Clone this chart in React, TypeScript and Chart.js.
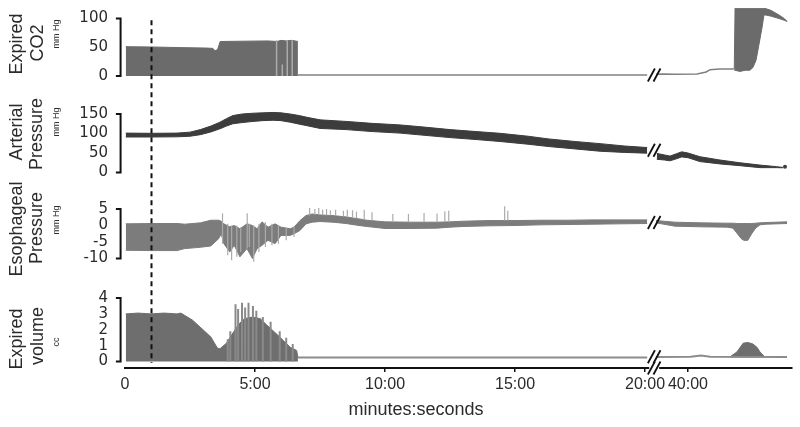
import React, { useEffect, useRef } from "react";
import { Chart, registerables } from "chart.js";

Chart.register(...registerables);

// ---------------- time axis (minutes), broken between 20:00 and 40:00 ----------------
const xTickMinutes = [0, 5, 10, 15, 20, 40];
const xTickLabels = ["0", "5:00", "10:00", "15:00", "20:00", "40:00"];
const breakAxisPos = 20.35;
const secondSegmentAxisStart = 21.65;
const axisEnd = 25.65;
const dashedMinute = 1;
const bracketOuter = -0.35;
const bracketInner = -0.17;
const toAxis = (t: number) => (t < 30 ? t : secondSegmentAxisStart + (t - 40));

// ---------------- tick labels per panel ----------------
const co2Ticks = [0, 50, 100];
const artTicks = [0, 50, 100, 150];
const esoTicks = [-10, -5, 0, 5];
const volTicks = [0, 1, 2, 3, 4];

// ---------------- Expired CO2 (mm Hg) ----------------
const co2Time = [0.03, 1.0, 2.0, 3.2, 3.38, 3.46, 3.56, 3.66, 4.5, 5.5, 5.85, 6.0, 6.2, 6.4, 6.55, 6.65];
const co2Max = [51, 50.5, 49.5, 48.5, 48, 44, 46, 60, 60.5, 61, 60, 62, 61, 62, 61, 60];
const co2SpikeTime = [5.83, 6.05, 6.24, 6.43];
const co2SpikeHigh = [62, 20, 62, 62];
const co2FlatTime = [6.65, 20.08];
const co2FlatVal = [1.7, 1.7];
const co2LateLineTime = [38.77, 39.04, 39.5, 40.35, 40.7, 40.85, 41.2, 41.69, 41.78];
const co2LateLineVal = [3.0, 3.5, 3.2, 3.6, 7, 11, 12, 12, 12.5];
const co2LateTime = [41.78, 41.81, 42.0, 42.2, 42.38, 42.5, 42.62, 42.73, 42.85, 42.92, 43.0, 43.2, 43.5, 43.7, 43.81];
const co2LateMax = [13, 118, 118, 118, 118, 118, 118, 118, 118, 118, 117, 114, 106, 100, 95];
const co2LateMin = [10, 10, 8, 10, 10, 15, 28, 55, 85, 106, 106, 104, 100, 97, 95];

// ---------------- Arterial pressure (mm Hg) ----------------
const artTime = [0.03, 1, 2, 2.5, 2.9, 3.3, 3.65, 3.9, 4.15, 4.5, 4.92, 5.3, 5.69, 6.0, 6.35, 6.7, 7.0, 7.5, 8.5, 9.5, 10.58, 11.5, 12.5, 13.5, 14.42, 15.5, 16.3, 17.3, 18.27, 19.2, 20.08];
const artMax = [101, 100.5, 101, 103.5, 110, 119, 129, 138, 146, 150, 152, 153, 154, 153, 150, 146, 141.5, 135, 131, 126, 122, 116.5, 110, 105, 100.5, 93, 86, 79.5, 74, 68, 64];
const artMin = [91, 91, 91.5, 93, 97, 104, 112, 119, 125, 128, 131, 133, 134, 133, 129, 124, 120, 113, 110, 105, 101, 95.5, 89.5, 84.5, 79.5, 72.5, 66.5, 60.5, 54.5, 51.5, 49.5];
const artLateTime = [38.8, 39.1, 39.31, 39.55, 39.76, 40.0, 40.46, 41.23, 42.0, 42.77, 43.41, 43.65];
const artLateMax = [49, 45, 42, 48, 53, 50, 40.5, 32, 25, 19, 15, 13];
const artLateMin = [34, 32, 30, 35, 40, 38, 28, 22, 17.5, 12.5, 12.5, 12];
const artEndTime = [43.73];
const artEndVal = [15];

// ---------------- Esophageal pressure (mm Hg) ----------------
const esoTime = [0.03, 1.0, 2.0, 2.3, 2.9, 3.3, 3.6, 3.7, 3.8, 4.03, 4.2, 4.42, 4.69, 4.9, 5.08, 5.27, 5.5, 5.77, 6.0, 6.35, 6.5, 6.73, 6.96, 7.2, 7.5, 8.0, 8.5, 9.0, 9.3, 10, 11, 12, 12.5, 13, 14, 15, 16, 17, 18, 19, 20.08];
const esoMax = [0.5, 0.6, 0.6, 0.4, 0.8, 1.6, 1.6, 1.3, 0.5, -0.4, 0.0, -1.0, 0.5, 0.0, -1.0, 1.1, -0.5, 0.5, -0.5, -1.0, -0.5, 1.5, 3.0, 3.5, 3.2, 3.0, 2.6, 2.0, 1.6, 1.1, 1.0, 1.0, 1.1, 1.3, 1.5, 1.5, 1.6, 1.6, 1.7, 1.7, 1.7];
const esoMin = [-7.5, -7.6, -7.6, -7.0, -6.6, -6.2, -4.0, -2.5, -5.5, -8.0, -6.0, -9.5, -7.0, -10.0, -7.0, -6.0, -4.5, -5.5, -3.0, -3.0, -2.5, -1.5, 0.5, 1.0, 1.2, 1.0, 0.6, 0.0, -0.3, -0.9, -0.9, -0.8, -0.5, -0.3, -0.1, 0.0, 0.2, 0.3, 0.4, 0.5, 0.6];
const esoSpikeTime = [3.75, 3.95, 4.1, 4.3, 4.45, 4.7, 4.78, 4.95, 5.15, 5.4, 5.65, 5.9, 6.2, 6.5, 7.1, 7.3, 7.45, 7.6, 7.75, 7.9, 8.1, 8.4, 8.55, 8.75, 8.9, 9.2, 9.5, 10.3, 10.9, 11.5, 12.0, 12.3, 12.45, 14.6, 14.72];
const esoSpikeLow = [-5.5, -9.0, -10.5, -9.5, -8.0, -7.0, -6.5, -11.0, -8.0, -6.5, -6.0, -5.5, -4.5, -3.5, 3.0, 3.2, 3.2, 3.2, 3.1, 3.0, 3.0, 2.7, 2.6, 2.4, 2.2, 1.8, 1.5, 1.0, 1.0, 1.0, 1.0, 1.0, 1.0, 1.5, 1.5];
const esoSpikeHigh = [3.7, 0.5, 0.0, 0.0, -0.5, 3.7, 0.5, 0.0, 0.5, 1.0, 0.5, 0.0, -0.5, -0.5, 5.3, 5.0, 5.3, 4.8, 5.0, 4.6, 4.8, 4.5, 4.8, 4.6, 4.2, 4.8, 4.0, 3.5, 3.5, 3.8, 3.6, 4.3, 4.5, 5.8, 4.5];
const esoLateTime = [38.77, 39.5, 40.5, 41.5, 41.73, 41.9, 42.05, 42.15, 42.3, 42.45, 42.6, 42.77, 43.0, 43.81];
const esoLateMax = [1.5, 1.0, 0.8, 0.7, 0.7, 0.6, 0.6, 0.6, 0.6, 0.6, 0.7, 0.8, 0.9, 1.1];
const esoLateMin = [0.8, -0.2, -0.4, -0.5, -0.8, -2.5, -4.0, -4.5, -4.5, -2.5, -0.8, 0.2, 0.4, 0.6];

// ---------------- Expired volume (cc) ----------------
const volTime = [0.03, 0.5, 1.0, 1.5, 2.0, 2.15, 2.3, 2.6, 3.0, 3.3, 3.55, 3.65, 3.9, 4.15, 4.4, 4.6, 4.9, 5.2, 5.45, 5.85, 6.1, 6.35, 6.6, 6.65];
const volMax = [3.0, 3.05, 3.0, 3.05, 3.0, 3.05, 2.9, 2.6, 2.0, 1.55, 0.85, 0.8, 1.15, 1.8, 2.4, 2.7, 2.8, 2.7, 2.3, 1.7, 1.3, 0.9, 0.7, 0.25];
const volSpikeTime = [3.95, 4.05, 4.25, 4.35, 4.5, 4.62, 4.75, 4.92, 5.05, 5.3, 5.6, 5.95, 6.2, 6.45];
const volSpikeHigh = [1.4, 1.9, 3.6, 3.3, 3.7, 3.4, 3.7, 3.5, 3.2, 2.8, 2.5, 1.9, 1.5, 1.1];
const volFlatTime = [6.65, 20.08];
const volFlatVal = [0.25, 0.25];
const volLateLineTime = [38.77, 40.1, 40.5, 40.85, 43.81];
const volLateLineVal = [0.28, 0.3, 0.38, 0.3, 0.28];
const volBumpTime = [41.62, 41.88, 42.12, 42.3, 42.5, 42.65, 42.77, 42.96];
const volBumpMax = [0.3, 0.6, 1.15, 1.2, 1.1, 0.9, 0.6, 0.28];

// ---------------- layout / styling ----------------
const AREA_TOP = 8;
const AREA_BOTTOM = 368;
const C_CO2 = "#6b6b6b";
const C_ART = "#3c3c3c";
const C_ESO = "#7c7c7c";
const C_VOL = "#6e6e6e";
const C_LIGHT = "#ababab";
const TEXT = "#2b2b2b";
const SANS = "'Liberation Sans', Arial, sans-serif";
const YFONT = "'DejaVu Sans', sans-serif";

// panel bands (pixel rows) and pixel rows of lowest/highest tick
const panelLayout: Record<string, { top: number; bottom: number; lo: number; hi: number; order: number }> = {
  yCO2: { top: 8, bottom: 95, lo: 76, hi: 18.5, order: 4 },
  yArt: { top: 95, bottom: 190, lo: 172.5, hi: 114, order: 3 },
  yEso: { top: 190, bottom: 278, lo: 258.5, hi: 209, order: 2 },
  yVol: { top: 278, bottom: 368, lo: 361.5, hi: 298, order: 1 },
};

const pts = (ts: number[], vs: number[]) => ts.map((t, i) => ({ x: toAxis(t), y: vs[i] }));
const spikePts = (ts: number[], lo: number[] | null, hi: number[]) =>
  ts.flatMap((t, i) => [
    { x: toAxis(t), y: lo ? lo[i] : 0 },
    { x: toAxis(t), y: hi[i] },
    { x: toAxis(t), y: null as any },
  ]);

const lineDs = (yAxisID: string, data: any[], color: string, width: number, extra: any = {}) => ({
  data,
  yAxisID,
  xAxisID: "x",
  borderColor: color,
  backgroundColor: color,
  borderWidth: width,
  pointRadius: 0,
  fill: false,
  tension: 0,
  spanGaps: false,
  order: 2,
  ...extra,
});

const bandDs = (yAxisID: string, ts: number[], hi: number[], lo: number[], color: string) => [
  lineDs(yAxisID, pts(ts, hi), color, 1, { fill: "+1" }),
  lineDs(yAxisID, pts(ts, lo), color, 1),
];

// axis bracket "]" drawn left of the plot, from lowest to highest tick
const bracketDs = (yAxisID: string, ticks: number[]) =>
  lineDs(
    yAxisID,
    [
      { x: bracketOuter, y: ticks[ticks.length - 1] },
      { x: bracketInner, y: ticks[ticks.length - 1] },
      { x: bracketInner, y: ticks[0] },
      { x: bracketOuter, y: ticks[0] },
    ],
    "#111111",
    2,
    { clip: false, order: -1, borderJoinStyle: "miter", borderCapStyle: "butt" }
  );

export default function App() {
  const ref = useRef<HTMLCanvasElement>(null);

  useEffect(() => {
    const canvas = ref.current!;

    const datasets: any[] = [
      bracketDs("yCO2", co2Ticks),
      bracketDs("yArt", artTicks),
      bracketDs("yEso", esoTicks),
      bracketDs("yVol", volTicks),
      lineDs("yCO2", spikePts(co2SpikeTime, null, co2SpikeHigh), C_LIGHT, 1.5, { order: 0 }),
      lineDs("yEso", spikePts(esoSpikeTime, esoSpikeLow, esoSpikeHigh), C_LIGHT, 1.2, { order: 0 }),
      lineDs("yVol", spikePts(volSpikeTime, null, volSpikeHigh), "#8a8a8a", 2, { order: 0 }),
      lineDs("yArt", pts(artEndTime, artEndVal), C_ART, 0, { pointRadius: 2, pointBackgroundColor: C_ART, order: 0 }),
      lineDs("yCO2", pts(co2Time, co2Max), C_CO2, 1, { fill: { value: 0 } }),
      lineDs("yCO2", pts(co2FlatTime, co2FlatVal), "#808080", 1.5),
      lineDs("yCO2", pts(co2LateLineTime, co2LateLineVal), "#808080", 1.5),
      ...bandDs("yCO2", co2LateTime, co2LateMax, co2LateMin, C_CO2),
      ...bandDs("yArt", artTime, artMax, artMin, C_ART),
      ...bandDs("yArt", artLateTime, artLateMax, artLateMin, C_ART),
      ...bandDs("yEso", esoTime, esoMax, esoMin, C_ESO),
      ...bandDs("yEso", esoLateTime, esoLateMax, esoLateMin, C_ESO),
      lineDs("yVol", pts(volTime, volMax), C_VOL, 1, { fill: { value: 0 } }),
      lineDs("yVol", pts(volFlatTime, volFlatVal), "#8c8c8c", 2),
      lineDs("yVol", pts(volLateLineTime, volLateLineVal), "#8c8c8c", 2),
      lineDs("yVol", pts(volBumpTime, volBumpMax), C_VOL, 1, { fill: { value: 0.25 } }),
    ];

    const yScale = (id: string, ticks: number[]) => {
      const p = panelLayout[id];
      const vLo = ticks[0];
      const vHi = ticks[ticks.length - 1];
      const k = (p.lo - p.hi) / (vHi - vLo);
      const max = vLo + (p.lo - p.top) / k;
      const min = vLo - (p.bottom - p.lo) / k;
      return {
        type: "linear",
        position: "left",
        stack: "panels",
        stackWeight: p.bottom - p.top,
        weight: p.order,
        min,
        max,
        grid: { display: false, drawTicks: false },
        border: { display: false },
        afterBuildTicks: (s: any) => {
          s.ticks = ticks.map((v) => ({ value: v }));
        },
        afterFit: (s: any) => {
          s.width = 125;
          s.paddingTop = 0;
          s.paddingBottom = 0;
        },
        ticks: {
          autoSkip: false,
          padding: 17,
          color: TEXT,
          font: { family: YFONT, size: 15 },
          callback: (v: any) => String(v),
        },
      };
    };

    const titles = [
      { text: "Expired", x: 17, y: 44, size: 18 },
      { text: "CO2", x: 38, y: 43, size: 18 },
      { text: "mm Hg", x: 57, y: 34, size: 9 },
      { text: "Arterial", x: 17, y: 132, size: 18 },
      { text: "Pressure", x: 37, y: 134, size: 18 },
      { text: "mm Hg", x: 57, y: 122, size: 9 },
      { text: "Esophageal", x: 17, y: 229, size: 18 },
      { text: "Pressure", x: 37, y: 228, size: 18 },
      { text: "mm Hg", x: 57, y: 220, size: 9 },
      { text: "Expired", x: 17, y: 339, size: 18 },
      { text: "volume", x: 38, y: 336, size: 18 },
      { text: "cc", x: 57, y: 342, size: 9 },
    ];

    const breaks = [
      { id: "yCO2", v: 1.7 },
      { id: "yArt", v: 57 },
      { id: "yEso", v: 0.9 },
      { id: "yVol", v: 0.3 },
    ];

    const decor = {
      id: "decor",
      afterDraw(chart: any) {
        const { ctx, scales } = chart;
        const xs = scales.x;
        const plotBottom = xs.top;
        ctx.save();
        ctx.fillStyle = TEXT;
        ctx.textAlign = "center";
        ctx.textBaseline = "middle";
        for (const t of titles) {
          ctx.save();
          ctx.translate(t.x, t.y);
          ctx.rotate(-Math.PI / 2);
          ctx.font = `${t.size}px ${SANS}`;
          ctx.fillText(t.text, 0, 0);
          ctx.restore();
        }
        ctx.font = `18px ${SANS}`;
        ctx.fillText("minutes:seconds", 416, 410);
        const dx = Math.round(xs.getPixelForValue(dashedMinute)) + 0.5;
        ctx.strokeStyle = "#111";
        ctx.lineWidth = 2;
        ctx.setLineDash([5, 4]);
        ctx.beginPath();
        ctx.moveTo(dx, scales.yCO2.getPixelForValue(97));
        ctx.lineTo(dx, plotBottom - 5);
        ctx.stroke();
        ctx.setLineDash([]);
        const bxp = xs.getPixelForValue(breakAxisPos);
        const slash = (cx: number, cy: number, clear: boolean) => {
          if (clear) {
            ctx.fillStyle = "#fff";
            ctx.fillRect(cx - 5, cy - 3, 10, 6);
          }
          ctx.strokeStyle = "#111";
          ctx.lineWidth = 1.8;
          for (const off of [-2.8, 2.8]) {
            ctx.beginPath();
            ctx.moveTo(cx + off - 3.5, cy + 6.5);
            ctx.lineTo(cx + off + 3.5, cy - 6.5);
            ctx.stroke();
          }
        };
        for (const b of breaks) slash(bxp, scales[b.id].getPixelForValue(b.v), false);
        slash(bxp, plotBottom, true);
        ctx.restore();
      },
    };

    const chart = new Chart(canvas, {
      type: "line",
      data: { datasets },
      options: {
        animation: false,
        responsive: false,
        maintainAspectRatio: false,
        layout: { padding: { top: AREA_TOP, right: 8, left: 0, bottom: 0 } },
        plugins: { legend: { display: false }, tooltip: { enabled: false } },
        events: [],
        scales: {
          x: {
            type: "linear",
            position: "bottom",
            min: 0,
            max: axisEnd,
            afterBuildTicks: (s: any) => {
              s.ticks = xTickMinutes.map((m) => ({ value: toAxis(m) }));
            },
            afterFit: (s: any) => {
              s.height = 427 - AREA_BOTTOM;
              s.paddingLeft = 0;
              s.paddingRight = 0;
            },
            grid: {
              display: true,
              drawOnChartArea: false,
              drawTicks: true,
              tickLength: 4,
              lineWidth: 1.5,
              color: (c: any) => (c.index === 0 ? "rgba(0,0,0,0)" : "#111"),
            },
            border: { display: true, color: "#111", width: 2 },
            ticks: {
              autoSkip: false,
              maxRotation: 0,
              padding: 3,
              color: TEXT,
              font: { family: SANS, size: 16 },
              callback: (_v: any, i: number) => xTickLabels[i],
            },
          },
          yCO2: yScale("yCO2", co2Ticks),
          yArt: yScale("yArt", artTicks),
          yEso: yScale("yEso", esoTicks),
          yVol: yScale("yVol", volTicks),
        } as any,
      },
      plugins: [decor],
    } as any);

    return () => chart.destroy();
  }, []);

  return (
    <div style={{ position: "fixed", left: 0, top: 0, width: 800, height: 427, background: "#fff" }}>
      <canvas ref={ref} width={800} height={427} style={{ display: "block" }} />
    </div>
  );
}
